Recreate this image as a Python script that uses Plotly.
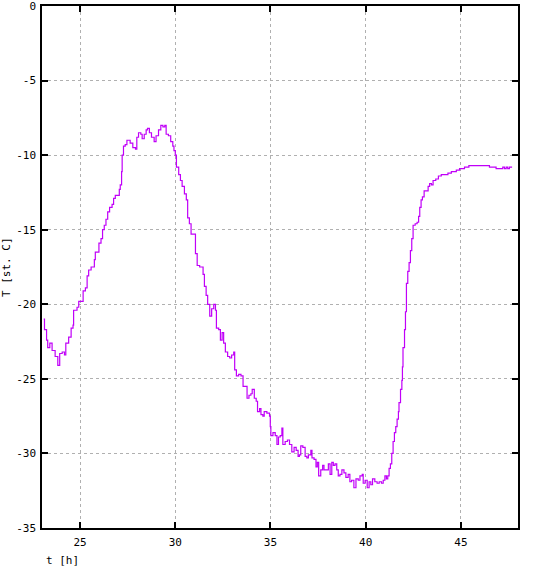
import plotly.graph_objects as go

# time [h]
t = [23.09, 23.13, 23.24, 23.30, 23.41, 23.53, 23.69, 23.83, 23.93, 24.06, 24.18, 24.25, 24.40, 24.53,
     24.63, 24.66, 24.84, 24.93, 25.05, 25.16, 25.28, 25.37, 25.45, 25.58, 25.68, 25.75, 25.80, 25.92,
     25.99, 26.10, 26.18, 26.27, 26.36, 26.45, 26.55, 26.68, 26.76, 26.85, 26.99, 27.06, 27.11, 27.18,
     27.21, 27.28, 27.37, 27.46, 27.54, 27.63, 27.77, 27.91, 27.98, 28.07, 28.19, 28.26, 28.37, 28.47,
     28.54, 28.64, 28.75, 28.89, 28.99, 29.12, 29.24, 29.35, 29.45, 29.52, 29.64, 29.76, 29.87, 29.93,
     30.00, 30.06, 30.18, 30.27, 30.36, 30.48, 30.58, 30.65, 30.74, 30.83, 30.94, 31.06, 31.15, 31.28,
     31.41, 31.46, 31.53, 31.62, 31.70, 31.81, 31.91, 32.02, 32.11, 32.16, 32.28, 32.37, 32.46, 32.54,
     32.63, 32.75, 32.86, 32.96, 33.07, 33.12, 33.21, 33.33, 33.45, 33.56, 33.68, 33.77, 33.87, 33.97,
     34.04, 34.15, 34.25, 34.32, 34.43, 34.50, 34.60, 34.67, 34.81, 34.95, 34.99, 35.02, 35.13, 35.25,
     35.34, 35.42, 35.51, 35.60, 35.65, 35.77, 35.89, 36.00, 36.12, 36.24, 36.35, 36.45, 36.52, 36.59,
     36.70, 36.82, 36.91, 36.99, 37.12, 37.18, 37.29, 37.39, 37.46, 37.53, 37.64, 37.74, 37.81, 37.92,
     38.04, 38.13, 38.22, 38.30, 38.39, 38.48, 38.56, 38.65, 38.75, 38.86, 38.96, 39.08, 39.17, 39.26,
     39.38, 39.49, 39.61, 39.70, 39.82, 39.87, 39.97, 40.08, 40.18, 40.27, 40.36, 40.48, 40.60, 40.71,
     40.83, 40.92, 41.01, 41.09, 41.16, 41.23, 41.30, 41.37, 41.44, 41.51, 41.58, 41.65, 41.72, 41.75,
     41.83, 41.90, 41.93, 41.96, 42.04, 42.09, 42.14, 42.21, 42.28, 42.35, 42.42, 42.49, 42.60, 42.70,
     42.78, 42.84, 42.91, 42.98, 43.07, 43.19, 43.28, 43.36, 43.45, 43.54, 43.68, 43.82, 43.97, 44.15,
     44.32, 44.50, 44.76, 44.93, 45.19, 45.42, 45.72, 45.98, 46.33, 46.50, 46.68, 46.85, 47.03, 47.20,
     47.29, 47.38, 47.46, 47.55, 47.69]

# temperature [st. C]
temp = [-21.0, -21.7, -22.4, -22.9, -22.6, -23.1, -23.5, -24.1, -23.3, -23.2, -23.4, -22.6, -22.2, -21.6,
        -21.4, -20.4, -20.2, -19.8, -19.8, -19.1, -18.9, -18.1, -17.7, -17.5, -17.5, -17.0, -16.5, -16.5,
        -15.9, -15.6, -15.0, -14.7, -14.3, -13.8, -13.5, -13.3, -12.9, -12.7, -12.7, -12.3, -12.0, -11.1,
        -10.0, -9.4, -9.3, -9.0, -9.0, -9.2, -9.5, -9.6, -8.8, -8.5, -8.6, -8.9, -8.6, -8.3,
        -8.2, -8.5, -8.8, -9.1, -8.7, -8.3, -8.0, -8.1, -8.0, -8.6, -8.7, -9.1, -9.4, -9.7,
        -10.0, -10.8, -11.3, -11.7, -12.1, -12.6, -13.0, -14.2, -14.6, -15.3, -15.3, -16.6, -17.4, -17.5,
        -17.5, -18.0, -18.8, -19.4, -20.0, -20.8, -20.3, -20.0, -20.4, -21.6, -21.7, -22.4, -21.9, -22.6,
        -23.2, -23.5, -23.6, -23.4, -23.2, -24.4, -24.8, -24.7, -24.8, -25.5, -25.5, -26.3, -26.1, -26.0,
        -25.7, -26.3, -26.5, -27.2, -27.0, -27.4, -27.5, -27.2, -27.3, -27.5, -28.2, -28.8, -28.6, -28.8,
        -29.4, -28.9, -28.8, -28.3, -29.4, -29.2, -29.1, -29.4, -29.9, -29.6, -29.8, -30.2, -30.1, -29.5,
        -29.6, -30.2, -30.3, -30.1, -29.8, -30.3, -30.4, -30.9, -30.6, -31.5, -31.1, -30.8, -31.1, -31.1,
        -30.7, -31.4, -30.6, -30.8, -30.7, -31.1, -31.5, -31.4, -31.1, -31.3, -31.6, -31.4, -31.9, -31.8,
        -32.3, -31.7, -31.8, -31.5, -31.4, -32.0, -31.8, -32.3, -31.9, -32.1, -31.7, -31.9, -32.0, -31.9,
        -32.0, -31.8, -31.5, -31.7, -31.5, -31.0, -30.7, -30.0, -29.2, -28.6, -28.2, -27.7, -27.2, -26.6,
        -25.7, -25.1, -24.2, -22.9, -21.7, -20.5, -18.6, -17.8, -17.2, -16.4, -15.6, -14.7, -14.6, -14.5,
        -14.1, -13.5, -13.0, -12.8, -12.4, -12.4, -12.1, -11.9, -12.0, -11.7, -11.6, -11.4, -11.3, -11.3,
        -11.2, -11.1, -11.0, -10.9, -10.8, -10.7, -10.7, -10.7, -10.7, -10.8, -10.8, -10.9, -10.9, -10.8,
        -10.9, -10.8, -10.9, -10.8, -10.8]

x_ticks = [25, 30, 35, 40, 45]
y_ticks = [0, -5, -10, -15, -20, -25, -30, -35]
y_tick_labels = ["0", "-5", "-10", "-15", "-20", "-25", "-30", "-35"]

FONT = "DejaVu Sans Mono"

fig = go.Figure()
fig.add_trace(go.Scatter(x=t, y=temp, mode="lines", line=dict(color="#c000f8", width=1.2, shape="hv"),
                         showlegend=False, hoverinfo="skip"))

axis_common = dict(showline=True, linecolor="black", linewidth=1.5, mirror="allticks",
                   ticks="inside", ticklen=6, tickcolor="black", tickwidth=1.5,
                   showgrid=True, gridcolor="#b0b0b0", griddash="3px,3px", gridwidth=1,
                   zeroline=False, automargin=False, ticklabeloverflow="allow",
                   tickfont=dict(family=FONT, size=11, color="black"))

fig.update_xaxes(range=[23.0, 48.0], tickvals=x_ticks, ticktext=[str(v) for v in x_ticks],
                 ticklabelstandoff=3, **axis_common)
fig.update_yaxes(range=[-35, 0], tickvals=y_ticks, ticktext=y_tick_labels,
                 ticklabelstandoff=2, **axis_common)

fig.add_annotation(text="t [h]", xref="paper", yref="paper", x=0, y=0, xanchor="left", yanchor="top",
                   xshift=2, yshift=-24, showarrow=False, font=dict(family=FONT, size=11, color="black"))
fig.add_annotation(text="T [st. C]", xref="paper", yref="paper", x=0, y=0.5, xanchor="center",
                   yanchor="middle", xshift=-36, textangle=-90, showarrow=False,
                   font=dict(family=FONT, size=11, color="black"))

fig.update_layout(width=537, height=568, margin=dict(l=42, r=19, t=6, b=40),
                  paper_bgcolor="white", plot_bgcolor="white")

fig.write_html("out.html", config={"displayModeBar": False},
               post_script="document.body.style.margin='0';")
